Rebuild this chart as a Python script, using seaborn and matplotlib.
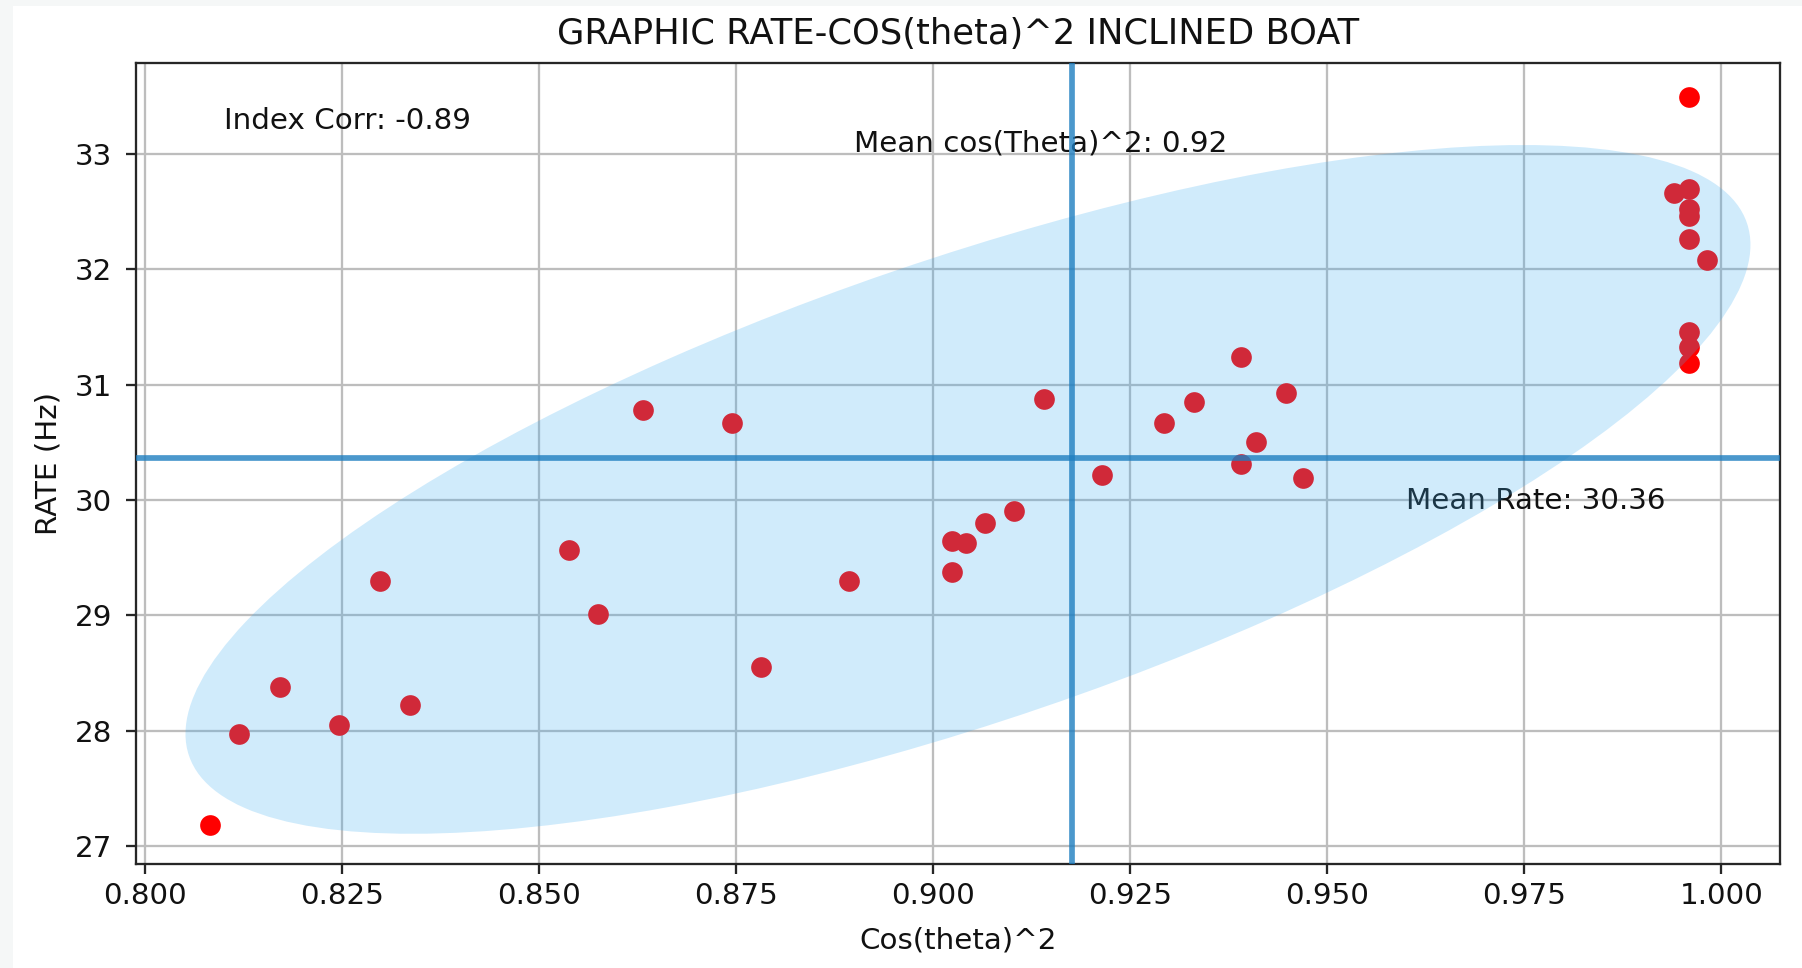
import numpy as np
import pandas as pd
import matplotlib
matplotlib.use("Agg")
import matplotlib.pyplot as plt
import matplotlib.transforms as transforms
from matplotlib.patches import Ellipse, Rectangle
import seaborn as sns

# ---------------- data ----------------
cos_theta_sq = [
    0.8082, 0.8119, 0.8171, 0.8246, 0.8336, 0.8298,
    0.8538, 0.8575, 0.8781, 0.8893,
    0.9024, 0.9042, 0.9024, 0.9065, 0.9103,
    0.9214, 0.9469, 0.9140, 0.9293, 0.9331, 0.9391, 0.9447, 0.9409, 0.9391,
    0.8631, 0.8744,
    0.9959, 0.9940, 0.9959, 0.9959, 0.9959, 0.9959, 0.9982, 0.9959, 0.9959, 0.9959,
]
rate_hz = [
    27.18, 27.97, 28.38, 28.05, 28.22, 29.30,
    29.57, 29.01, 28.55, 29.30,
    29.65, 29.63, 29.38, 29.80, 29.91,
    30.22, 30.19, 30.88, 30.67, 30.85, 31.24, 30.93, 30.50, 30.31,
    30.78, 30.67,
    33.49, 32.66, 32.70, 32.52, 32.46, 32.26, 32.08, 31.46, 31.33, 31.19,
]

title_text = "GRAPHIC RATE-COS(theta)^2 INCLINED BOAT"
x_label = "Cos(theta)^2"
y_label = "RATE (Hz)"
corr_label = "Index Corr: -0.89"
mean_x_label = "Mean cos(Theta)^2: 0.92"
mean_y_label = "Mean Rate: 30.36"
x_ticks = [0.800, 0.825, 0.850, 0.875, 0.900, 0.925, 0.950, 0.975, 1.000]
y_ticks = [27, 28, 29, 30, 31, 32, 33]

# ellipse shape (centre, half extents along x / y, correlation)
ell_center = (0.9044, 30.093)
ell_half_x = 0.0993
ell_half_y = 2.985
ell_rho = 0.71

df = pd.DataFrame({"cos2": cos_theta_sq, "rate": rate_hz})

# ---------------- styling ----------------
sns.set_theme(style="whitegrid")
plt.rcParams["font.family"] = ["DejaVu Sans"]

W, H, DPI = 1802, 968, 100
fig = plt.figure(figsize=(W / DPI, H / DPI), dpi=DPI, facecolor="#f5f7f7")
fig.patches.append(Rectangle((13 / W, 0), 1 - 13 / W, 1 - 6 / H,
                             transform=fig.transFigure, facecolor="white",
                             edgecolor="none", zorder=-10))
ax = fig.add_axes([136 / W, 1 - 864 / H, (1780 - 136) / W, (864 - 63) / H])
ax.set_facecolor("white")

sns.scatterplot(data=df, x="cos2", y="rate", color="#ff0000", s=222,
                linewidth=0, ax=ax, zorder=2)

mean_x = float(np.mean(cos_theta_sq))
mean_y = float(np.mean(rate_hz))

ell = Ellipse((0, 0), width=2 * np.sqrt(1 + ell_rho), height=2 * np.sqrt(1 - ell_rho),
              facecolor="#3bacf2", alpha=0.24, edgecolor="none", zorder=4)
tr = (transforms.Affine2D().rotate_deg(45).scale(ell_half_x, ell_half_y)
      .translate(*ell_center))
ell.set_transform(tr + ax.transData)
ax.add_patch(ell)

ax.axvline(mean_x, color="#1e7ec0", alpha=0.8, lw=4.1, zorder=5)
ax.axhline(mean_y, color="#1e7ec0", alpha=0.8, lw=4.1, zorder=5)

fs = 21.2
ax.text(0.81, 33.22, corr_label, fontsize=fs, color="#111111", zorder=3)
ax.text(0.89, 33.02, mean_x_label, fontsize=fs, color="#111111", zorder=3)
ax.text(0.96, 29.92, mean_y_label, fontsize=fs, color="#111111", zorder=3)

ax.set_xlim(0.79882, 1.00745)
ax.set_ylim(26.846, 33.789)
ax.set_xticks(x_ticks)
ax.set_xticklabels([f"{v:.3f}" for v in x_ticks])
ax.set_yticks(y_ticks)
ax.set_yticklabels([str(v) for v in y_ticks])

ax.grid(True, color="#bdbdbd", linewidth=1.65)
ax.set_axisbelow(True)
for s in ax.spines.values():
    s.set_visible(True)
    s.set_color("#262626")
    s.set_linewidth(1.65)

ax.tick_params(axis="both", which="major", labelsize=fs, colors="#262626",
               length=7, width=1.65, labelcolor="#111111")
ax.tick_params(axis="x", pad=6, bottom=True)
ax.tick_params(axis="y", pad=10, left=True)

ax.set_xlabel(x_label, fontsize=fs, color="#111111", labelpad=12)
ax.set_ylabel(y_label, fontsize=fs, color="#111111", labelpad=9)
ax.set_title(title_text, fontsize=25.4, color="#111111", pad=14)

fig.savefig("out.png", dpi=DPI, facecolor=fig.get_facecolor())
